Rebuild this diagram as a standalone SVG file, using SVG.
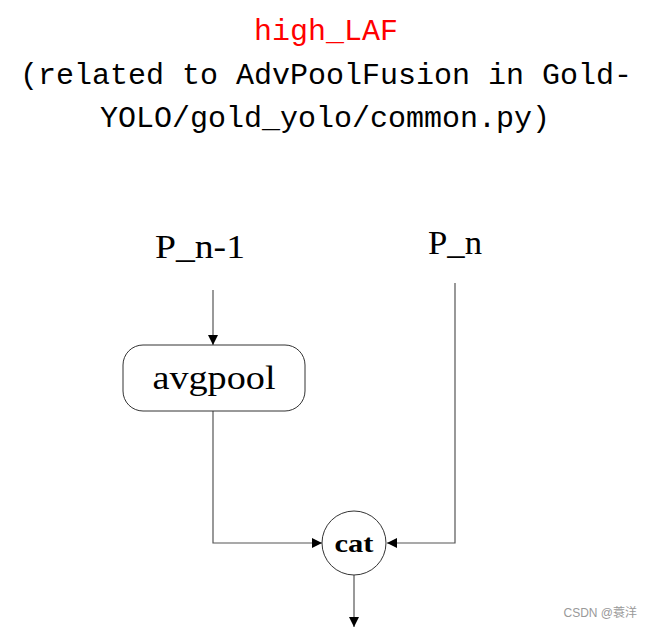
<svg xmlns="http://www.w3.org/2000/svg" width="652" height="629" viewBox="0 0 652 629">
<style>
.t{font-family:"Liberation Mono","Noto Sans CJK SC",monospace;font-size:30px;text-anchor:middle;fill:#000}
.lbl{font-family:"Liberation Serif","Noto Sans CJK SC",serif;font-size:34px;text-anchor:middle;fill:#000}
.ln{fill:none;stroke:#555;stroke-width:1.2}
.shape{fill:#fff;stroke:#333;stroke-width:1}
</style>
<defs>
<marker id="ah" viewBox="0 0 10 10" refX="10" refY="5" markerWidth="10" markerHeight="10" markerUnits="userSpaceOnUse" orient="auto">
<path d="M0,0 L10,5 L0,10 z" fill="#000"/>
</marker>
</defs>
<g id="title">
<text class="t" x="326" y="40" style="fill:#f00">high_LAF</text>
<text class="t" x="326" y="84">(related to AdvPoolFusion in Gold-</text>
<text class="t" x="325" y="127">YOLO/gold_yolo/common.py)</text>
</g>
<g id="connectors">
<path class="ln" d="M213,290 V345" marker-end="url(#ah)"/>
<path class="ln" d="M213,411 V543 H322" marker-end="url(#ah)"/>
<path class="ln" d="M455,283 V543 H387" marker-end="url(#ah)"/>
<path class="ln" d="M354,575 V627" marker-end="url(#ah)"/>
</g>
<g id="P_n-1"><text class="lbl" x="200" y="258" textLength="90" lengthAdjust="spacingAndGlyphs">P_n-1</text></g>
<g id="P_n"><text class="lbl" x="455" y="254" textLength="54" lengthAdjust="spacingAndGlyphs">P_n</text></g>
<g id="avgpool">
<rect class="shape" x="123" y="345" width="182" height="66" rx="20"/>
<text class="lbl" x="214" y="389" textLength="123" lengthAdjust="spacingAndGlyphs">avgpool</text>
</g>
<g id="cat">
<circle class="shape" cx="354" cy="543" r="32"/>
<text x="354" y="552" text-anchor="middle" style="font-family:'Liberation Serif',serif;font-size:26px;font-weight:bold" textLength="39" lengthAdjust="spacingAndGlyphs">cat</text>
</g>
<text x="637" y="617" text-anchor="end" style="font-family:'Liberation Sans','Noto Sans CJK SC',sans-serif;font-size:12px;fill:#999">CSDN @蓑洋</text>
</svg>
